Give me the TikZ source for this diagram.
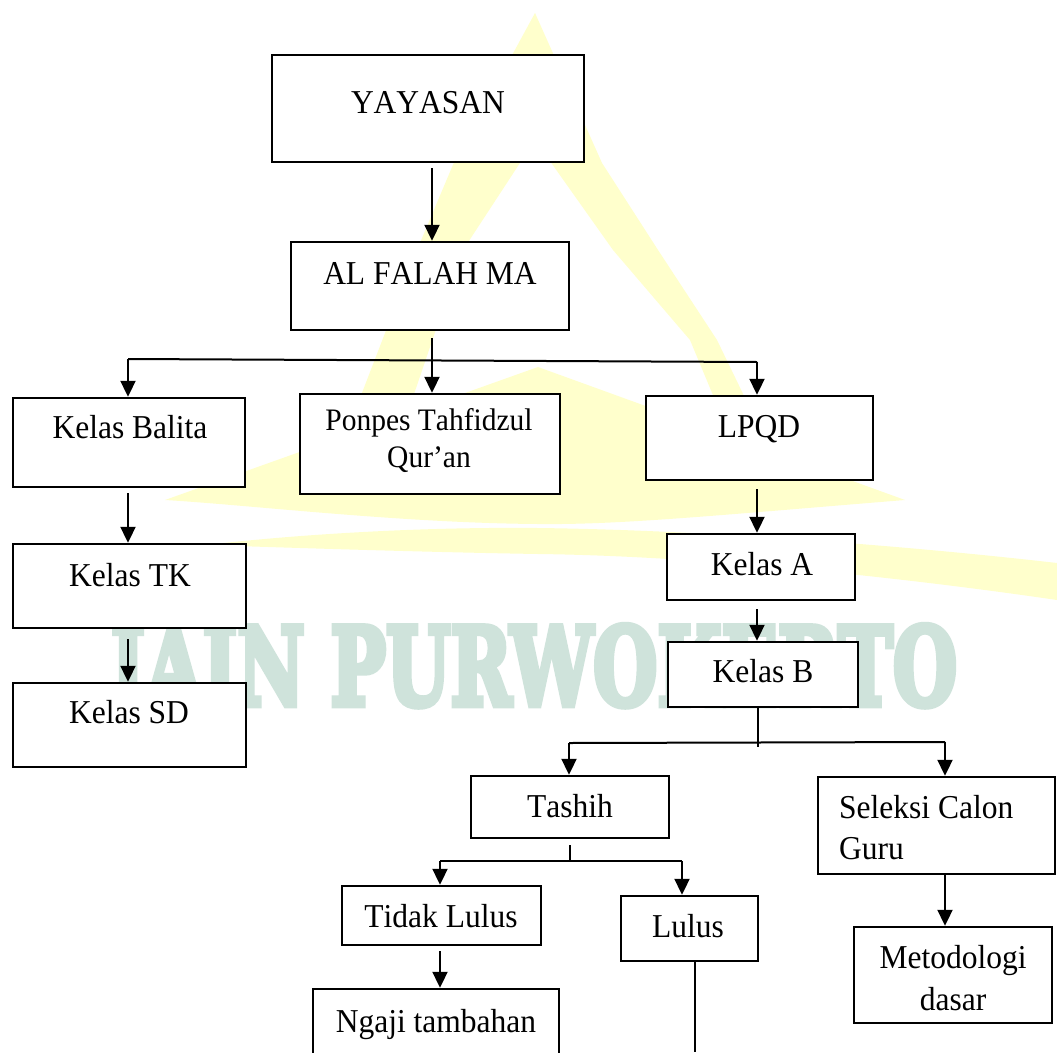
\documentclass[tikz,border=0pt]{standalone}
\usepackage{fontspec}
\setmainfont{Liberation Serif}[Kerning=Off]
\newfontfamily\wmfont{DejaVu Serif}[UprightFont=* Bold, FakeBold=6]
\usetikzlibrary{arrows.meta}
\definecolor{wmyellow}{RGB}{255,255,204}
\definecolor{wmteal}{RGB}{207,227,219}
\newcommand{\tallt}[1]{\scalebox{1}[1.06]{#1}}
\begin{document}
\begin{tikzpicture}[x=1pt,y=-1pt,
  box/.style={draw, line width=2.4pt, fill=white, inner sep=0pt},
  txt/.style={font=\fontsize{31.5}{37}\selectfont, inner sep=0pt, anchor=base},
  smalltxt/.style={font=\fontsize{29.5}{35}\selectfont, inner sep=0pt, anchor=base},
  ln/.style={line width=2pt},
  thinln/.style={line width=1.2pt},
  arr/.style={line width=2pt, -{Triangle[length=16pt,width=15pt]}},
  wmshape/.style={fill=wmyellow, draw=none}]
\useasboundingbox (0,0) rectangle (1057,1052);
\clip (0,0) rectangle (1057,1052);
\fill[white] (0,0) rectangle (1057,1052);

% ---- watermark ----
\path[wmshape] (535,13) -- (455,160) -- (417,250) -- (340,450) -- (395,450) -- (463,250) -- (535,140) -- cycle;
\path[wmshape] (535,13) -- (602,163) -- (658,250) -- (717,340) -- (775,460) -- (740,460) -- (690,340) -- (613,250) -- (535,140) -- cycle;
\path[wmshape] (165,500) -- (538,367) -- (905,500) .. controls (720,515) and (620,525) .. (538,524) .. controls (400,523) and (250,505) .. (165,500) -- cycle;
\path[wmshape] (205,545) .. controls (320,532) and (440,527) .. (538,528) .. controls (700,530) and (900,545) .. (1057,563) -- (1057,600) .. controls (900,577) and (700,556) .. (538,554) .. controls (420,552) and (300,548) .. (205,545) -- cycle;
\node[inner sep=0pt, anchor=base, text=wmteal] (wm) at (534,705)
  {\resizebox{846pt}{80pt}{\wmfont IAIN PURWOKERTO}};

% ---- boxes ----
\node[box, minimum width=312pt, minimum height=107pt] (yayasan) at (428,108.5) {};
\node[box, minimum width=278pt, minimum height=88pt]  (alfalah) at (430,286) {};
\node[box, minimum width=232pt, minimum height=89pt]  (balita)  at (129,442.5) {};
\node[box, minimum width=260pt, minimum height=100pt] (ponpes)  at (430,444) {};
\node[box, minimum width=227pt, minimum height=84pt]  (lpqd)    at (759.5,438) {};
\node[box, minimum width=188pt, minimum height=66pt]  (kelasa)  at (761,567) {};
\node[box, minimum width=190pt, minimum height=65pt]  (kelasb)  at (763,674.5) {};
\node[box, minimum width=233pt, minimum height=84pt]  (tk)      at (129.5,586) {};
\node[box, minimum width=233pt, minimum height=84pt]  (sd)      at (129.5,725) {};
\node[box, minimum width=198pt, minimum height=62pt]  (tashih)  at (570,807) {};
\node[box, minimum width=237pt, minimum height=97pt]  (seleksi) at (936.5,825.5) {};
\node[box, minimum width=199pt, minimum height=59pt]  (tidak)   at (441.5,915.5) {};
\node[box, minimum width=137pt, minimum height=65pt]  (lulus)   at (689.5,928.5) {};
\node[box, minimum width=246pt, minimum height=82pt]  (ngaji)   at (436,1030) {};
\node[box, minimum width=198pt, minimum height=96pt]  (metod)   at (953,975) {};

% ---- texts ----
\node[txt] (t-yayasan) at (428,113) {\tallt{YAYASAN}};
\node[txt] (t-alfalah) at (430,284) {\tallt{AL FALAH MA}};
\node[txt] (t-balita) at (130,438) {\tallt{Kelas Balita}};
\node[smalltxt] (t-ponpes1) at (429,430) {\tallt{Ponpes Tahfidzul}};
\node[smalltxt] (t-ponpes2) at (429,467) {\tallt{Qur’an}};
\node[txt] (t-lpqd) at (759,437) {\tallt{LPQD}};
\node[txt] (t-kelasa) at (762,575) {\tallt{Kelas A}};
\node[txt] (t-kelasb) at (763,682) {\tallt{Kelas B}};
\node[txt] (t-tk) at (130,586) {\tallt{Kelas TK}};
\node[txt] (t-sd) at (129,723) {\tallt{Kelas SD}};
\node[txt] (t-tashih) at (570,817) {\tallt{Tashih}};
\node[txt, anchor=base west] (t-seleksi1) at (839,818) {\tallt{Seleksi Calon}};
\node[txt, anchor=base west] (t-seleksi2) at (839,859) {\tallt{Guru}};
\node[txt] (t-tidak) at (441,927) {\tallt{Tidak Lulus}};
\node[txt] (t-lulus) at (688,937) {\tallt{Lulus}};
\node[txt] (t-metod1) at (953,968) {\tallt{Metodologi}};
\node[txt] (t-metod2) at (953,1010) {\tallt{dasar}};
\node[txt] (t-ngaji) at (436,1032) {\tallt{Ngaji tambahan}};

% ---- connectors ----
\coordinate (j1) at (432,360);
\coordinate (h1l) at (128,359);
\coordinate (h1r) at (757,362);
\draw[arr, shorten <=5pt] (yayasan.south -| j1) -- (alfalah.north -| j1);
\draw[ln, shorten <=7pt] (alfalah.south -| j1) -- (j1);
\draw[ln] (h1l) -- (h1r);
\draw[arr] (h1l) -- (balita.north -| h1l);
\draw[arr] (j1) -- (ponpes.north -| j1);
\draw[arr] (h1r) -- (lpqd.north -| h1r);
\draw[arr, shorten <=5pt] (balita.south -| h1l) -- (tk.north -| h1l);
\draw[arr, shorten <=10pt] (tk.south -| h1l) -- (sd.north -| h1l);
\draw[arr, shorten <=8pt] (lpqd.south -| h1r) -- (kelasa.north -| h1r);
\draw[arr, shorten <=8pt] (kelasa.south -| h1r) -- (kelasb.north -| h1r);

\coordinate (j2) at (758,747);
\coordinate (h2l) at (569,743);
\coordinate (h2r) at (945,742);
\draw[ln] (kelasb.south -| j2) -- (j2);
\draw[ln] (h2l) -- (h2r);
\draw[arr] (h2l) -- (tashih.north -| h2l);
\draw[arr] (h2r) -- (seleksi.north -| h2r);

\coordinate (j3) at (570,861);
\coordinate (h3l) at (440,861);
\coordinate (h3r) at (682,861);
\draw[thinln, shorten <=6pt] (tashih.south -| j3) -- (j3);
\draw[ln] (h3l) -- (h3r);
\draw[arr] (h3l) -- (tidak.north -| h3l);
\draw[arr] (h3r) -- (lulus.north -| h3r);
\draw[arr, shorten <=5pt] (tidak.south -| h3l) -- (ngaji.north -| h3l);
\draw[arr] (seleksi.south -| h2r) -- (metod.north -| h2r);

\coordinate (lend) at (695,1052);
\draw[thinln] (lulus.south -| lend) -- (lend);
\end{tikzpicture}
\end{document}
